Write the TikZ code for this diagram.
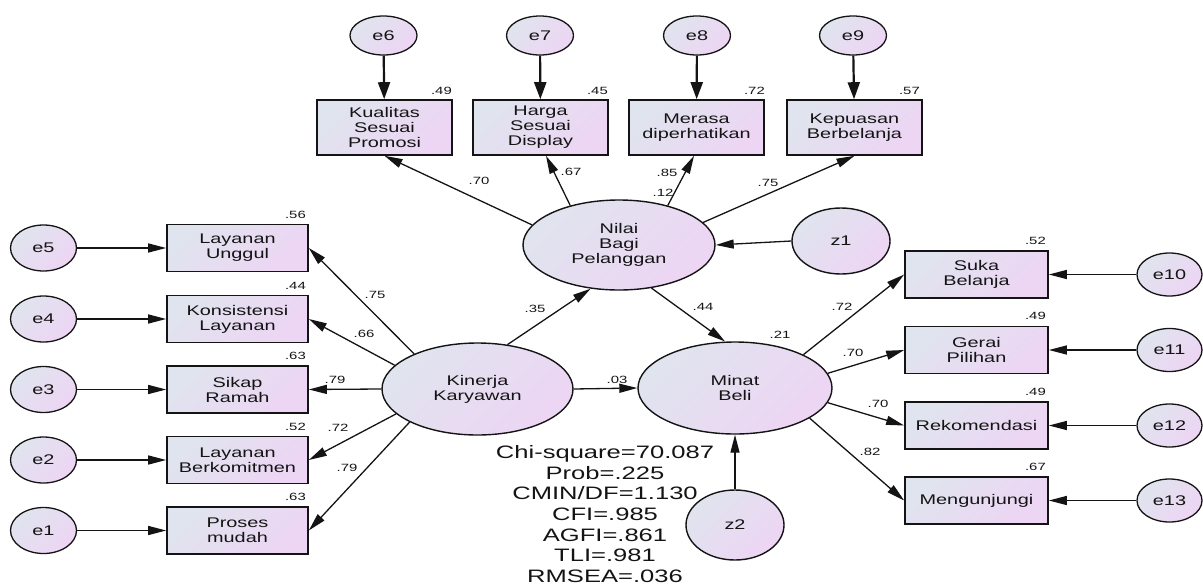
\documentclass[tikz,border=0pt]{standalone}
\usepackage{fontspec}
\setmainfont{Liberation Sans}[FakeStretch=1.42]
\usetikzlibrary{shapes.geometric,arrows.meta}
\definecolor{cA}{RGB}{224,228,238}
\definecolor{cB}{RGB}{237,213,244}
\definecolor{ink}{RGB}{20,20,20}
\tikzset{
  fillg/.style={left color=cA,right color=cB,shading angle=45},
  txt/.style={font=\fontsize{14}{15}\selectfont,text=ink,align=center,inner sep=0pt},
  err/.style={ellipse,draw=ink,line width=1.3pt,fillg,txt,minimum width=66pt,minimum height=46pt},
  errT/.style={err,minimum width=67pt,minimum height=39pt},
  errR/.style={err,minimum width=65pt,minimum height=43pt},
  lat/.style={ellipse,draw=ink,line width=1.4pt,fillg,txt},
  obs/.style={rectangle,draw=ink,line width=1.6pt,fillg,txt,minimum width=141pt,minimum height=47pt},
  obsT/.style={obs,minimum width=135pt,minimum height=55pt},
  num/.style={font=\fontsize{10.5}{11}\selectfont,text=ink,inner sep=0pt},
  arr/.style={draw=ink,line width=1.3pt,-{Triangle[length=18pt,width=9pt]}},
  arrT/.style={draw=ink,line width=2.2pt,-{Triangle[length=17pt,width=12pt]}},
}
\begin{document}
\begin{tikzpicture}[x=1pt,y=-1pt]
\useasboundingbox (0,0) rectangle (1203,584);
% left error terms
\node[err] (e5) at (43.5,248) {e5};
\node[err] (e4) at (43.5,319) {e4};
\node[err] (e3) at (43.5,389.5) {e3};
\node[err] (e2) at (43.5,460) {e2};
\node[err] (e1) at (43.5,530.5) {e1};
% left indicators
\node[obs] (lu) at (237.5,248) {Layanan\\Unggul};
\node[obs] (kl) at (237.5,319) {Konsistensi\\Layanan};
\node[obs] (sr) at (237.5,389.5) {Sikap\\Ramah};
\node[obs] (lb) at (237.5,460) {Layanan\\Berkomitmen};
\node[obs] (pm) at (237.5,530.5) {Proses\\mudah};
% top error terms
\node[errT] (e6) at (383.5,35.5) {e6};
\node[errT] (e7) at (540,35.5) {e7};
\node[errT] (e8) at (697,35.5) {e8};
\node[errT] (e9) at (853,35.5) {e9};
% top indicators
\node[obsT] (kp) at (384.5,127.5) {Kualitas\\Sesuai\\Promosi};
\node[obsT] (hs) at (540.5,127.5) {Harga\\Sesuai\\Display};
\node[obsT] (md) at (696.5,127.5) {Merasa\\diperhatikan};
\node[obsT] (kb) at (854.5,127.5) {Kepuasan\\Berbelanja};
% latent variables
\node[lat,minimum width=191pt,minimum height=92pt] (kin) at (477.5,389) {Kinerja\\Karyawan};
\node[lat,minimum width=192pt,minimum height=90pt] (nil) at (619,245) {Nilai\\Bagi\\Pelanggan};
\node[lat,minimum width=194pt,minimum height=92pt] (min) at (735,388) {Minat\\Beli};
\node[lat,minimum width=98pt,minimum height=66pt] (z1) at (841,241) {z1};
\node[lat,minimum width=98pt,minimum height=70pt] (z2) at (735,525) {z2};
% right indicators
\node[obs,minimum width=143pt] (sb) at (976.5,274.5) {Suka\\Belanja};
\node[obs,minimum width=143pt] (gp) at (976.5,350) {Gerai\\Pilihan};
\node[obs,minimum width=143pt] (rk) at (976.5,425.5) {Rekomendasi};
\node[obs,minimum width=143pt] (mg) at (976.5,500.5) {Mengunjungi};
% right error terms
\node[errR] (e10) at (1169.5,274.5) {e10};
\node[errR] (e11) at (1169.5,350) {e11};
\node[errR] (e12) at (1169.5,425.5) {e12};
\node[errR] (e13) at (1169.5,500.5) {e13};

% error arrows
\draw[arr] (e5) -- (lu);
\draw[arr] (e4) -- (kl);
\draw[arr] (e3) -- (sr);
\draw[arr] (e2) -- (lb);
\draw[arr] (e1) -- (pm);
\draw[arrT] (e6) -- (kp);
\draw[arrT] (e7) -- (hs);
\draw[arrT] (e8) -- (md);
\draw[arrT] (e9) -- (kb);
\draw[arr] (e10) -- (sb);
\draw[arr] (e11) -- (gp);
\draw[arr] (e12) -- (rk);
\draw[arr] (e13) -- (mg);
% loadings Kinerja
\draw[arr] (kin.151) -- (lu.east);
\draw[arr] (kin.164) -- (kl.east);
\draw[arr] (kin.180) -- (sr.east);
\draw[arr] (kin.197) -- (lb.east);
\draw[arr] (kin.206) -- (pm.east);
% loadings Nilai
\draw[arr] (nil.167) -- (kp.south);
\draw[arr] (nil.141) -- (hs.-79);
\draw[arr] (nil.39) -- (md.-95);
\draw[arr] (nil.15) -- (kb.south);
% loadings Minat
\draw[arr] (min.26) -- (sb.west);
\draw[arr] (min.9) -- (gp.west);
\draw[arr] (min.351) -- (rk.west);
\draw[arr] (min.338) -- (mg.west);
% structural paths
\draw[arr] (kin.56) -- (nil.237);
\draw[arr] (kin.east) -- (min.west);
\draw[arr] (nil.307) -- (min.102);
\draw[arr] (z1.west) -- (nil.east);
\draw[arr] (z2.north) -- (min.south);

% squared multiple correlations
\node[num,anchor=east] (r1) at (306,215) {.56};
\node[num,anchor=east] (r2) at (306,286) {.44};
\node[num,anchor=east] (r3) at (306,356) {.63};
\node[num,anchor=east] (r4) at (306,427) {.52};
\node[num,anchor=east] (r5) at (306,497) {.63};
\node[num,anchor=east] (r6) at (452,90.5) {.49};
\node[num,anchor=east] (r7) at (608,90.5) {.45};
\node[num,anchor=east] (r8) at (765,90.5) {.72};
\node[num,anchor=east] (r9) at (920,90.5) {.57};
\node[num,anchor=east] (r10) at (1046,241) {.52};
\node[num,anchor=east] (r11) at (1046,316) {.49};
\node[num,anchor=east] (r12) at (1046,391.5) {.49};
\node[num,anchor=east] (r13) at (1046,466.5) {.67};
\node[num] (rn) at (663,193) {.12};
\node[num] (rm) at (780,335) {.21};
% path coefficients
\node[num] (p1) at (375,295) {.75};
\node[num] (p2) at (364,334) {.66};
\node[num] (p3) at (335,380) {.79};
\node[num] (p4) at (338,428) {.72};
\node[num] (p5) at (347,468) {.79};
\node[num] (p6) at (479,181) {.70};
\node[num] (p7) at (571,172) {.67};
\node[num] (p8) at (667,173) {.85};
\node[num] (p9) at (768,183) {.75};
\node[num] (p10) at (535,309) {.35};
\node[num] (p11) at (617,380) {.03};
\node[num] (p12) at (703,307) {.44};
\node[num] (p13) at (842,307) {.72};
\node[num] (p14) at (853,353) {.70};
\node[num] (p15) at (878,404) {.70};
\node[num] (p16) at (870,452) {.82};
% fit statistics
\node[font=\fontsize{18}{20.7}\selectfont,text=ink,align=center,inner sep=0pt] (fit) at (605,514)
 {Chi-square=70.087\\Prob=.225\\CMIN/DF=1.130\\CFI=.985\\AGFI=.861\\TLI=.981\\RMSEA=.036};
\end{tikzpicture}
\end{document}
